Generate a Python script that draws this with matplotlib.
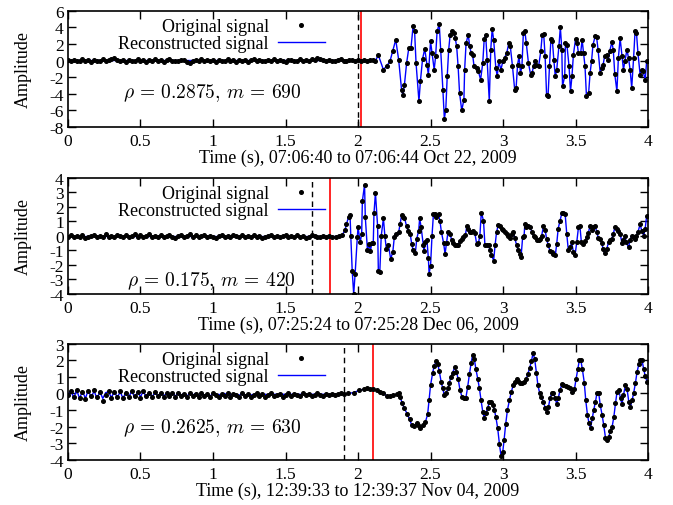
import numpy as np
import matplotlib.pyplot as plt

plt.rcParams['font.family'] = ['Liberation Serif', 'DejaVu Serif']
plt.rcParams['mathtext.fontset'] = 'cm'
plt.rcParams['axes.unicode_minus'] = False

DT = 0.02  # sample spacing of the quiet (pre-event) part

# ---------------- panel 1: Oct 22, 2009 ----------------
quiet1 = [0.05, -0.1, 0.1, -0.05, 0.0, 0.15, -0.1, 0.05, -0.15, 0.1,
          0.0, -0.1, 0.15, -0.05, 0.1, 0.2, 0.35, 0.1, -0.1, 0.05,
          -0.15, 0.1, 0.0, -0.1, 0.15, -0.05, 0.05, -0.2, 0.1, 0.0,
          0.15, -0.1, 0.05, -0.15, 0.1, 0.2, -0.05, 0.0, -0.1, 0.1,
          0.05, -0.2, -0.3, -0.1, 0.1, 0.0, 0.15, -0.05, 0.1, -0.1,
          0.05, -0.15, 0.1, 0.0, -0.05, 0.15, -0.1, 0.05, -0.2, 0.1,
          0.0, 0.1, -0.15, 0.05, 0.15, -0.05, 0.1, -0.1, 0.0, 0.05,
          -0.1, 0.15, -0.05, 0.1, 0.0, -0.15, 0.05, 0.1, -0.1, 0.0,
          0.15, -0.05, 0.1, -0.1, 0.2, 0.1, 0.35, 0.15, 0.1, -0.1,
          0.05, 0.0, -0.1, 0.1, 0.15, 0.0, -0.05, 0.1, 0.05, 0.0,
          0.1, -0.05, 0.05, 0.0, 0.1, 0.05, 0.0]
event1 = [(2.14, 0.64), (2.175, -1.1), (2.20, -0.6), (2.22, -0.1), (2.24, 1.2),
          (2.26, 2.5), (2.28, 0.1), (2.30, -3.5), (2.31, -4.2), (2.32, -2.9),
          (2.335, -0.3), (2.35, 1.5), (2.365, 1.5), (2.38, 4.2), (2.39, 3.5),
          (2.40, -0.3), (2.42, -4.9), (2.43, -2.5), (2.445, 0.2), (2.46, 1.4),
          (2.475, -0.5), (2.485, -1.7), (2.50, 2.3), (2.51, 0.9), (2.525, -1.1),
          (2.535, 0.5), (2.545, 3.5), (2.56, 4.4), (2.57, 1.3), (2.585, -3.5),
          (2.595, -7.0), (2.605, -5.9), (2.615, -1.9), (2.625, 1.3), (2.635, 3.1),
          (2.65, 3.5), (2.66, 3.3), (2.67, 2.7), (2.68, 1.7), (2.69, -0.7),
          (2.70, -3.9), (2.715, -6.0), (2.73, -4.7), (2.735, -1.1), (2.745, 2.1),
          (2.76, 3.1), (2.77, 1.7), (2.78, 0.9), (2.79, 0.7), (2.80, -0.7),
          (2.82, -0.9), (2.83, -1.3), (2.845, -2.3), (2.86, -0.3), (2.87, 2.6),
          (2.88, 3.1), (2.89, 0.1), (2.905, -4.9), (2.915, 1.3), (2.925, 3.8),
          (2.935, 2.5), (2.95, -0.9), (2.96, -1.9), (2.97, -0.1), (2.985, -1.1),
          (3.00, 0.0), (3.01, 0.3), (3.025, 0.9), (3.04, 2.1), (3.05, 1.7),
          (3.065, -0.7), (3.08, -3.5), (3.09, -3.3), (3.10, -0.5), (3.11, 0.5),
          (3.12, -1.5), (3.13, -0.7), (3.14, 3.3), (3.15, 3.6), (3.16, 2.1),
          (3.175, -0.3), (3.19, -1.7), (3.20, -1.5), (3.21, -0.7), (3.22, -0.1),
          (3.23, -0.5), (3.245, -0.7), (3.26, 1.1), (3.27, 3.1), (3.28, 3.2),
          (3.29, 0.5), (3.30, -4.1), (3.31, -4.3), (3.32, -0.7), (3.33, 2.6),
          (3.34, 2.4), (3.35, 0.1), (3.36, -1.9), (3.37, -1.1), (3.385, 1.7),
          (3.395, 4.0), (3.405, 1.3), (3.41, -3.1), (3.425, -1.9), (3.43, 2.1),
          (3.44, 1.9), (3.455, -0.7), (3.465, -3.7), (3.475, -1.9), (3.485, 0.7),
          (3.50, 2.6), (3.51, 2.1), (3.52, 0.9), (3.535, 0.9), (3.545, 2.5),
          (3.555, 0.9), (3.565, -0.7), (3.575, -4.3), (3.59, -3.9), (3.60, -1.5),
          (3.61, -0.1), (3.62, 1.9), (3.635, 2.9), (3.645, 2.8), (3.655, 1.3),
          (3.67, -1.5), (3.68, -0.9), (3.69, -0.5), (3.70, 0.5), (3.715, 0.7),
          (3.725, 0.1), (3.735, 1.1), (3.75, 2.2), (3.76, 1.3), (3.77, -1.6),
          (3.785, -3.7), (3.795, 0.3), (3.807, 2.7), (3.82, 0.5), (3.83, -1.1),
          (3.84, -0.1), (3.854, 1.3), (3.865, 0.3), (3.876, -1.1), (3.887, -3.3),
          (3.90, 0.3), (3.91, 3.5), (3.92, 3.3), (3.93, 0.9), (3.945, -1.7),
          (3.955, -1.1), (3.965, -1.3), (3.98, -2.3), (3.99, -0.1), (4.0, 0.0)]
recon_quiet1 = [0.0] * len(quiet1)

# ---------------- panel 2: Dec 06, 2009 ----------------
quiet2 = [-0.05, 0.05, -0.1, 0.0, -0.05, 0.05, -0.15, -0.05, 0.0, 0.05,
          -0.1, 0.0, -0.05, 0.1, -0.05, 0.0, -0.1, 0.05, 0.0, -0.05,
          0.05, -0.1, 0.0, 0.1, -0.05, 0.05, -0.05, 0.0, 0.1, -0.05,
          0.0, -0.1, 0.05, -0.05, 0.0, 0.05, -0.05, -0.15, 0.0, 0.05,
          -0.05, 0.0, 0.1, -0.05, 0.05, -0.1, 0.0, 0.05, -0.05, 0.0,
          -0.1, -0.15, 0.0, 0.05, -0.05, 0.0, -0.1, 0.05, 0.0, -0.05,
          0.05, -0.05, 0.0, -0.1, 0.05, -0.05, 0.0, -0.15, -0.05, 0.0,
          0.05, -0.05, 0.0, -0.1, 0.0, 0.05, -0.05, 0.0, -0.1, 0.05,
          -0.05, 0.0, -0.15, -0.05, 0.05, 0.0, -0.1, -0.05, 0.0, -0.05,
          0.0, -0.05]
event2 = [(1.85, -0.05), (1.87, 0.0), (1.89, 0.05), (1.91, 0.37), (1.92, 0.8),
          (1.935, 1.3), (1.945, 1.4), (1.95, 0.0), (1.96, -2.45), (1.97, -4.0),
          (1.98, -2.6), (1.995, -0.1), (2.0, 0.6), (2.015, -0.45), (2.025, 0.15),
          (2.03, 2.4), (2.045, 3.5), (2.05, 1.3), (2.065, -1.0), (2.075, -0.55),
          (2.085, -1.05), (2.095, -0.5), (2.105, -0.5), (2.11, 1.55), (2.12, 2.95),
          (2.135, 0.65), (2.14, -2.4), (2.15, -2.5), (2.16, 0.0), (2.175, 1.2),
          (2.185, 0.0), (2.195, -0.9), (2.21, -0.65), (2.225, -1.6), (2.24, -1.1),
          (2.25, -0.1), (2.265, 0.15), (2.28, 0.25), (2.29, 0.8), (2.30, 1.4),
          (2.31, 1.3), (2.32, 1.25), (2.335, 0.65), (2.347, 0.3), (2.36, 0.1),
          (2.37, -0.55), (2.38, -1.0), (2.395, -1.2), (2.405, -0.2), (2.418, 0.35),
          (2.425, 1.2), (2.435, 0.6), (2.45, -0.65), (2.455, -1.05), (2.465, -0.45),
          (2.475, -0.3), (2.485, -1.55), (2.49, -2.6), (2.50, -2.05), (2.51, 0.0),
          (2.52, 1.5), (2.53, 1.5), (2.54, 1.3), (2.555, 1.5), (2.565, 1.0),
          (2.575, 0.25), (2.59, -0.5), (2.60, -1.25), (2.61, -0.5), (2.62, 0.25),
          (2.635, 0.15), (2.645, -0.3), (2.657, -0.5), (2.67, -0.6), (2.68, -0.6),
          (2.69, -0.65), (2.70, -0.35), (2.715, -0.25), (2.727, -0.1), (2.74, 0.05),
          (2.75, 0.65), (2.76, 0.5), (2.77, 0.25), (2.78, 0.25), (2.795, 0.35),
          (2.805, 0.2), (2.818, -0.55), (2.83, -0.5), (2.84, 0.0), (2.85, 1.6),
          (2.865, 1.05), (2.875, -0.65), (2.89, -0.6), (2.90, -0.65), (2.91, -1.0),
          (2.92, -1.3), (2.935, -1.7), (2.945, -0.65), (2.955, 0.25), (2.967, 0.75),
          (2.98, 0.65), (2.99, 0.5), (3.0, 0.4), (3.01, 0.25), (3.025, 0.15),
          (3.035, 0.0), (3.048, -0.15), (3.06, 0.15), (3.07, 0.25), (3.08, -0.15),
          (3.094, -0.65), (3.105, -1.0), (3.117, -1.25), (3.124, -1.45), (3.135, -0.1),
          (3.145, 0.0), (3.15, 0.8), (3.16, 0.6), (3.175, 0.7), (3.186, 0.6),
          (3.2, 0.25), (3.21, 0.0), (3.22, -0.1), (3.232, -0.3), (3.245, -0.3),
          (3.255, -0.2), (3.266, 0.0), (3.278, 0.65), (3.29, 0.4), (3.30, -0.2),
          (3.311, -0.65), (3.324, -1.05), (3.335, -1.1), (3.347, -1.25), (3.36, -1.35),
          (3.37, -0.55), (3.38, 0.5), (3.393, 1.05), (3.405, 1.55), (3.416, 1.6),
          (3.428, 1.5), (3.439, 0.15), (3.45, -1.0), (3.462, -0.8), (3.473, -0.45),
          (3.485, -1.1), (3.496, -1.35), (3.508, -0.45), (3.52, 0.6), (3.53, 0.65),
          (3.54, -0.45), (3.554, -0.55), (3.565, -0.35), (3.577, -0.1), (3.588, 0.2),
          (3.60, 0.7), (3.61, 0.4), (3.62, 0.6), (3.635, 0.7), (3.646, 0.25),
          (3.657, -0.15), (3.668, -0.2), (3.68, -0.5), (3.69, -0.9), (3.70, -1.2),
          (3.715, -0.9), (3.727, -0.45), (3.738, -0.3), (3.75, -0.2), (3.76, 0.15),
          (3.772, 0.6), (3.783, 0.5), (3.795, 0.35), (3.807, 0.15), (3.82, -0.5),
          (3.83, -0.3), (3.84, 0.0), (3.85, -0.45), (3.865, -0.8), (3.876, -0.3),
          (3.887, 0.0), (3.90, -0.1), (3.91, -0.2), (3.92, 0.0), (3.93, 0.25),
          (3.945, 0.8), (3.956, 0.35), (3.97, 0.0), (3.98, 0.5), (3.99, 1.35)]
recon_quiet2 = [-0.05] * len(quiet2)

# ---------------- panel 3: Nov 04, 2009 ----------------
quiet3 = [-0.1, 0.15, -0.2, 0.2, -0.25, 0.1, -0.35, 0.15, -0.15, 0.2,
          -0.2, 0.1, -0.45, -0.1, 0.15, -0.25, 0.1, -0.2, 0.15, -0.25,
          0.05, -0.2, 0.15, -0.15, 0.1, -0.25, 0.15, -0.15, 0.05, -0.2,
          0.1, -0.15, 0.0, -0.2, 0.05, -0.15, 0.0, -0.2, 0.05, -0.15,
          -0.05, -0.2, 0.0, -0.15, -0.05, -0.2, 0.0, -0.15, -0.05, -0.2,
          0.0, -0.1, -0.2, -0.05, -0.15, 0.0, -0.2, -0.05, -0.1, -0.2,
          0.0, -0.15, -0.05, -0.2, -0.1, 0.0, -0.15, -0.05, -0.2, -0.1,
          0.0, -0.15, -0.1, -0.05, -0.2, -0.1, 0.0, -0.15, -0.05, -0.1,
          -0.15, 0.0, -0.1, -0.05, -0.15, -0.1, 0.0, -0.1, -0.15, -0.05,
          -0.1, -0.05, -0.1, -0.05, 0.0, -0.05]
recon_quiet3 = [-0.05, 0.15, -0.25, 0.2, -0.3, 0.15, -0.3, 0.2, -0.25, 0.15,
                -0.3, 0.1, -0.3, 0.05, 0.1, -0.25, 0.15, -0.25, 0.1, -0.3,
                0.1, -0.2, 0.15, -0.25, 0.1, -0.2, 0.15, -0.25, 0.1, -0.2,
                0.05, -0.15, 0.05, -0.15, 0.0, -0.15, 0.05, -0.15, 0.0, -0.1,
                0.0, -0.15, 0.0, -0.1, 0.0, -0.15, 0.0, -0.1, -0.05, -0.15,
                0.0, -0.1, -0.05, -0.15, 0.0, -0.1, -0.05, -0.1, -0.05, -0.1,
                -0.05, -0.1, -0.05, -0.1, -0.05, -0.08, -0.05, -0.08, -0.05, -0.08,
                -0.05, -0.05, -0.05, -0.05, -0.05, -0.05, -0.05, -0.05, -0.05, -0.05,
                -0.05, -0.05, -0.05, -0.05, -0.05, -0.05, -0.05, -0.05, -0.05, -0.05,
                -0.05, -0.05, -0.05, -0.05, -0.05, -0.05]
event3 = [(1.93, 0.0), (1.97, 0.05), (2.01, 0.2), (2.04, 0.25), (2.06, 0.3),
          (2.08, 0.28), (2.105, 0.28), (2.13, 0.2), (2.15, 0.1), (2.175, 0.0),
          (2.20, -0.15), (2.22, -0.15), (2.24, -0.1), (2.267, -0.05), (2.28, 0.0),
          (2.29, -0.2), (2.305, -0.6), (2.32, -0.9), (2.34, -1.25), (2.355, -1.55),
          (2.37, -1.9), (2.385, -1.95), (2.405, -1.8), (2.415, -1.9), (2.43, -2.05),
          (2.45, -1.9), (2.465, -1.7), (2.48, -1.25), (2.49, -0.4), (2.50, 0.5),
          (2.515, 1.25), (2.525, 1.65), (2.54, 1.95), (2.55, 1.75), (2.56, 1.35),
          (2.573, 0.7), (2.584, 0.3), (2.595, -0.1), (2.607, 0.05), (2.62, 0.3),
          (2.63, 0.65), (2.64, 1.0), (2.653, 1.25), (2.667, 1.6), (2.678, 1.3),
          (2.69, 0.9), (2.703, 0.2), (2.717, -0.2), (2.73, -0.3), (2.743, -0.3),
          (2.756, 0.4), (2.768, 1.15), (2.78, 1.85), (2.79, 2.3), (2.802, 2.05),
          (2.813, 1.45), (2.825, 0.9), (2.837, 0.3), (2.848, -0.4), (2.86, -1.1),
          (2.87, -1.45), (2.88, -1.2), (2.894, -0.9), (2.905, -0.5), (2.917, -0.5),
          (2.93, -0.7), (2.94, -1.0), (2.95, -1.4), (2.963, -2.1), (2.975, -3.05),
          (2.986, -3.75), (2.998, -3.5), (3.007, -2.8), (3.018, -1.85), (3.03, -1.0),
          (3.044, -0.4), (3.057, 0.1), (3.07, 0.5), (3.083, 0.7), (3.094, 0.85),
          (3.106, 0.75), (3.117, 0.6), (3.13, 0.6), (3.145, 0.7), (3.159, 0.85),
          (3.17, 1.15), (3.184, 1.55), (3.196, 1.95), (3.207, 2.45), (3.218, 2.05),
          (3.23, 1.25), (3.24, 0.5), (3.253, 0.0), (3.264, -0.2), (3.278, -0.5),
          (3.29, -0.85), (3.30, -1.1), (3.313, -0.8), (3.324, -0.3), (3.336, 0.05),
          (3.347, 0.05), (3.36, -0.3), (3.37, -0.65), (3.38, -0.3), (3.393, 0.2),
          (3.405, 0.55), (3.416, 0.5), (3.432, 0.45), (3.448, 0.4), (3.462, 0.3),
          (3.478, 0.1), (3.492, 0.25), (3.503, 0.85), (3.515, 1.45), (3.526, 2.0),
          (3.536, 2.0), (3.547, 1.45), (3.56, 0.65), (3.57, -0.4), (3.582, -1.3),
          (3.593, -1.8), (3.603, -2.1), (3.615, -1.5), (3.625, -1.0), (3.637, -0.5),
          (3.648, 0.05), (3.66, 0.0), (3.67, -0.7), (3.683, -1.3), (3.694, -1.9),
          (3.706, -2.65), (3.717, -2.8), (3.729, -2.6), (3.74, -2.25), (3.752, -2.0),
          (3.764, -1.4), (3.775, -0.6), (3.786, 0.1), (3.798, 0.2), (3.81, -0.3),
          (3.82, -0.65), (3.83, -0.1), (3.844, 0.5), (3.855, 0.25), (3.867, -0.5),
          (3.878, -0.8), (3.89, -0.4), (3.90, 0.0), (3.913, 0.65), (3.924, 1.3),
          (3.936, 1.75), (3.947, 2.0), (3.958, 2.0), (3.97, 1.45), (3.98, 1.05),
          (3.993, 0.7)]

panels = [
    dict(quiet=quiet1, recon_quiet=recon_quiet1, event=event1, ylim=(-8, 6), ystep=2,
         dashed=2.0, red=2.02, rho='0.2875', m='690', ytext=0.30,
         xlabel='Time (s), 07:06:40 to 07:06:44 Oct 22, 2009'),
    dict(quiet=quiet2, recon_quiet=recon_quiet2, event=event2, ylim=(-4, 4), ystep=1,
         dashed=1.685, red=1.81, rho='0.175', m='420', ytext=0.12,
         xlabel='Time (s), 07:25:24 to 07:25:28 Dec 06, 2009'),
    dict(quiet=quiet3, recon_quiet=recon_quiet3, event=event3, ylim=(-4, 3), ystep=1,
         dashed=1.9, red=2.1, rho='0.2625', m='630', ytext=0.28,
         xlabel='Time (s), 12:39:33 to 12:39:37 Nov 04, 2009'),
]

fig = plt.figure(figsize=(6.73, 5.06), dpi=100)
boxes = [(0.101, 0.747), (0.101, 0.417), (0.101, 0.089)]

for (x0, y0), p in zip(boxes, panels):
    ax = fig.add_axes([x0, y0, 0.862, 0.230])
    t_q = np.arange(len(p['quiet'])) * DT
    t_e, v_e = zip(*p['event'])
    t = np.concatenate([t_q, t_e])
    orig = np.concatenate([p['quiet'], v_e])
    recon = np.concatenate([p['recon_quiet'], v_e])

    ax.axvline(p['dashed'], color='black', lw=1, ls=(0, (4, 3)), zorder=1)
    ax.axvline(p['red'], color='red', lw=1.2, zorder=1)
    line, = ax.plot(t, recon, color='#0000ff', lw=1, zorder=2,
                    label='Reconstructed signal')
    dots, = ax.plot(t, orig, ls='none', marker='o', ms=2.6, color='black',
                    zorder=3, label='Original signal')

    ax.set_xlim(0, 4)
    ax.set_ylim(*p['ylim'])
    ax.set_xticks(np.arange(0, 4.01, 0.5))
    ax.set_xticklabels([f'{v:g}' for v in np.arange(0, 4.01, 0.5)])
    ax.set_yticks(np.arange(p['ylim'][0], p['ylim'][1] + 0.1, p['ystep']))
    ax.tick_params(direction='in', top=True, right=True, length=6, width=1,
                   labelsize=12.5)
    ax.tick_params(axis='x', pad=4)
    ax.tick_params(axis='y', pad=3)
    for s in ax.spines.values():
        s.set_linewidth(1.2)

    ax.set_xlabel(p['xlabel'], fontsize=13, labelpad=0)
    ax.set_ylabel('Amplitude', fontsize=13)
    ax.yaxis.set_label_coords(-0.062, 0.5)

    ax.text(0.248, p['ytext'], rf"$\rho\,=\,{p['rho']},\,m\,=\,{p['m']}$",
            transform=ax.transAxes, ha='center', va='center', fontsize=14)

    ax.legend([dots, line], ['Original signal', 'Reconstructed signal'],
              loc='upper right', bbox_to_anchor=(0.443, 0.935), frameon=False,
              markerfirst=False, fontsize=13, labelspacing=0.0, borderpad=0,
              borderaxespad=0, handlelength=2.6, handletextpad=0.5,
              markerscale=1.0)

fig.savefig('out.png', dpi=100)
